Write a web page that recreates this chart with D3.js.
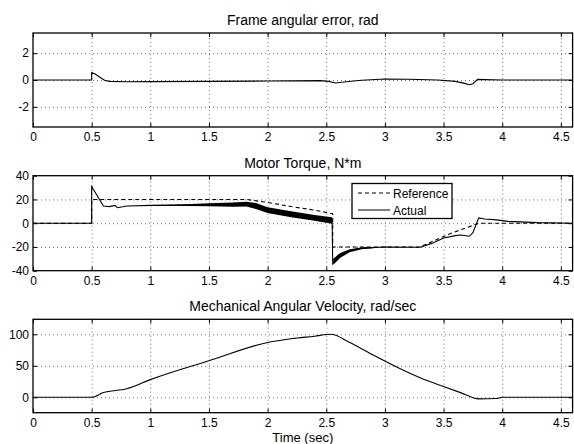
<!DOCTYPE html>
<html lang="en">
<head>
    <meta charset="UTF-8">
    <title>Motor simulation</title>
    <script src="https://d3js.org/d3.v7.js"></script>
    <style>
        body { margin: 0; background: #fff; }
        text { font-family: "Liberation Sans", Arial, Helvetica, sans-serif; font-size: 12px; fill: #000; }
        text.title { font-size: 14px; }
        text.xlabel { font-size: 13px; }
        .grid line { stroke: #000; stroke-opacity: 0.55; stroke-dasharray: 1,3; }
        .grid path, .ax path { display: none; }
        .ax line { stroke: #000; }
    </style>
</head>
<body>
<svg width="574" height="444"></svg>
<script>
    // ---- data ----
    let xTicks = [0, 0.5, 1, 1.5, 2, 2.5, 3, 3.5, 4, 4.5];

    // frame angular error, rad
    let errT = [0, 0.5, 0.5, 0.53, 0.57, 0.61, 0.65, 0.8, 1.0, 1.5, 2.0, 2.45, 2.52, 2.58, 2.65, 2.8, 3.0, 3.2, 3.45, 3.6, 3.68, 3.72, 3.75, 3.79, 3.85, 4.0, 4.6];
    let errV = [0, 0, 0.55, 0.45, 0.2, -0.02, -0.1, -0.13, -0.12, -0.1, -0.08, -0.05, -0.1, -0.22, -0.15, -0.02, 0.08, 0.06, 0.0, -0.1, -0.25, -0.35, -0.28, 0.05, 0.03, 0, 0];
    let errTicks = [-2, 0, 2];

    // motor torque, N*m
    let refT = [0, 0.5, 0.5, 1.82, 2.0, 2.2, 2.4, 2.555, 2.555, 3.3, 3.55, 3.76, 3.8, 4.6];
    let refV = [0, 0, 20, 20, 17.5, 14, 11, 8, -20, -20, -9, -1.5, 0, 0];
    let actT = [0, 0.5, 0.5, 0.6, 0.65, 0.7, 0.72, 0.8, 1.0, 1.2, 1.5, 1.8, 1.85, 2.0, 2.2, 2.4, 2.55, 2.555, 2.6, 2.7, 2.8, 3.0, 3.3, 3.4, 3.5, 3.6, 3.65, 3.72, 3.75, 3.8, 3.85, 3.95, 4.05, 4.3, 4.6];
    let actV = [0, 0, 31, 14.5, 14, 15, 13, 14.5, 15, 15, 15.5, 16, 15.5, 11, 7.5, 4.5, 2.5, -34, -27, -23, -21, -20, -20.3, -17, -12.5, -10.5, -10, -11, -8, 4.5, 3.5, 2.8, 1.5, 0.5, 0];
    // ripple envelope of the actual torque
    let bandT  = [1.0, 1.3, 1.5, 1.7, 1.82, 1.9, 2.0, 2.2, 2.4, 2.55];
    let bandHi = [15.3, 16, 16.8, 17.5, 18, 17, 13.5, 10, 7, 5];
    let bandLo = [14.7, 14.5, 14.2, 13.8, 14, 12, 8.5, 5, 2, -0.5];
    let band2T  = [2.56, 2.62, 2.7, 2.8, 2.9];
    let band2Hi = [-30, -25, -22, -20.5, -20];
    let band2Lo = [-35, -29, -24.5, -22, -21];
    let torqueTicks = [-40, -20, 0, 20, 40];

    // mechanical angular velocity, rad/sec
    let velT = [0, 0.5, 0.6, 0.8, 1.0, 1.5, 2.0, 2.2, 2.4, 2.54, 2.7, 2.9, 3.1, 3.3, 3.5, 3.65, 3.8, 3.95, 4.0, 4.6];
    let velV = [0, 0, 7.5, 13.5, 28, 58, 87, 93, 97, 100, 87, 67, 48, 31, 17, 7, -2.5, -2, 0, 0];
    let velTicks = [0, 50, 100];

    // ---- layout ----
    let left = 33, right = 572.6;
    let svg = d3.select("svg");
    let x = d3.scaleLinear().domain([0, 4.6]).range([left, right]);

    function panel(top, bottom, yDomain, yTicks, title) {
        let y = d3.scaleLinear().domain(yDomain).range([bottom, top]);
        let g = svg.append("g");
        let h = bottom - top;

        // dotted grid
        g.append("g").attr("class", "grid")
            .attr("transform", "translate(0," + bottom + ")")
            .call(d3.axisBottom(x).tickValues(xTicks.filter(d => d > 0)).tickSize(-h).tickFormat(""));
        g.append("g").attr("class", "grid")
            .attr("transform", "translate(" + left + ",0)")
            .call(d3.axisLeft(y).tickValues(yTicks.filter(d => d > yDomain[0] && d < yDomain[1])).tickSize(-(right - left)).tickFormat(""));

        // inward ticks on all four sides
        g.append("g").attr("class", "ax")
            .attr("transform", "translate(0," + bottom + ")")
            .call(d3.axisBottom(x).tickValues(xTicks).tickSize(-4).tickPadding(5.5).tickFormat(d => String(d)));
        g.append("g").attr("class", "ax")
            .attr("transform", "translate(0," + top + ")")
            .call(d3.axisTop(x).tickValues(xTicks).tickSize(-4).tickFormat(""));
        g.append("g").attr("class", "ax")
            .attr("transform", "translate(" + left + ",0)")
            .call(d3.axisLeft(y).tickValues(yTicks).tickSize(-4).tickPadding(4).tickFormat(d => String(d)));
        g.append("g").attr("class", "ax")
            .attr("transform", "translate(" + right + ",0)")
            .call(d3.axisRight(y).tickValues(yTicks).tickSize(-4).tickFormat(""));

        g.append("text")
            .attr("class", "title")
            .attr("x", (left + right) / 2).attr("y", top - 8)
            .attr("text-anchor", "middle")
            .text(title);

        return {g: g, y: y, top: top, bottom: bottom};
    }

    function box(p) {
        p.g.append("rect")
            .attr("x", left).attr("y", p.top)
            .attr("width", right - left).attr("height", p.bottom - p.top)
            .attr("fill", "none").attr("stroke", "#000").attr("stroke-width", 1.3);
    }

    function drawLine(p, ts, vs, dash, curve) {
        let line = d3.line().x(d => x(d[0])).y(d => p.y(d[1])).curve(curve || d3.curveLinear);
        p.g.append("path")
            .datum(d3.zip(ts, vs))
            .attr("d", line)
            .attr("fill", "none")
            .attr("stroke", "#000")
            .attr("stroke-width", 1.1)
            .attr("stroke-dasharray", dash || null);
    }

    function drawBand(p, ts, lo, hi) {
        let area = d3.area().x(d => x(d[0])).y0(d => p.y(d[1])).y1(d => p.y(d[2]));
        p.g.append("path")
            .datum(d3.zip(ts, lo, hi))
            .attr("d", area)
            .attr("fill", "#000");
    }

    // panel 1
    let p1 = panel(33, 127, [-3.5, 3.5], errTicks, "Frame angular error, rad");
    drawLine(p1, errT, errV);
    box(p1);

    // panel 2
    let p2 = panel(175.7, 270.7, [-40, 40], torqueTicks, "Motor Torque, N*m");
    drawBand(p2, bandT, bandLo, bandHi);
    drawBand(p2, band2T, band2Lo, band2Hi);
    drawLine(p2, actT, actV);
    drawLine(p2, refT, refV, "4,3");
    box(p2);

    // legend
    let lg = p2.g.append("g").attr("transform", "translate(352,183.5)");
    lg.append("rect").attr("width", 100).attr("height", 35)
        .attr("fill", "#fff").attr("stroke", "#000").attr("stroke-width", 1.3);
    lg.append("line").attr("x1", 6).attr("x2", 38).attr("y1", 9.5).attr("y2", 9.5)
        .attr("stroke", "#000").attr("stroke-dasharray", "4,3");
    lg.append("line").attr("x1", 6).attr("x2", 38).attr("y1", 26.5).attr("y2", 26.5)
        .attr("stroke", "#000");
    lg.append("text").attr("x", 41).attr("y", 14).text("Reference");
    lg.append("text").attr("x", 41).attr("y", 31).text("Actual");

    // panel 3
    let p3 = panel(319.3, 412.7, [-24.5, 123.8], velTicks, "Mechanical Angular Velocity, rad/sec");
    drawLine(p3, velT, velV, null, d3.curveMonotoneX);
    box(p3);

    svg.append("text")
        .attr("class", "xlabel")
        .attr("x", (left + right) / 2).attr("y", 442)
        .attr("text-anchor", "middle")
        .text("Time (sec)");
</script>
</body>
</html>
